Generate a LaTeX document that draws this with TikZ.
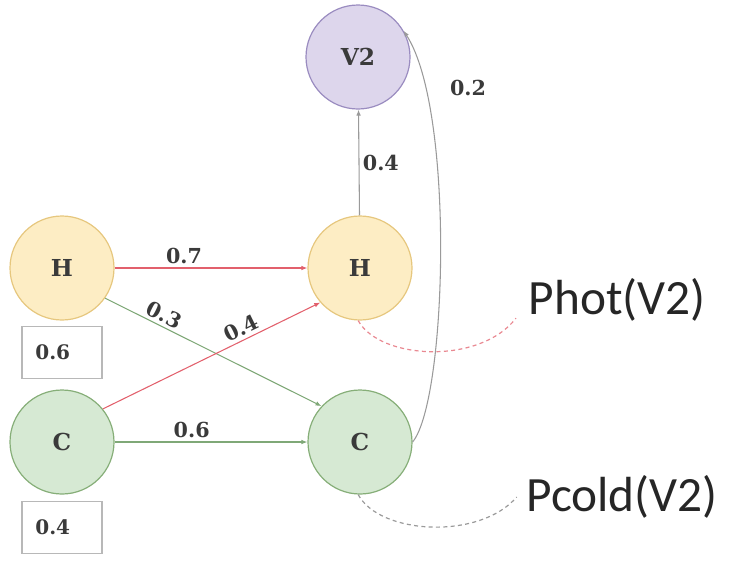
\documentclass[tikz,border=0pt]{standalone}
\usepackage{fontspec}
\setmainfont{DejaVu Serif}
\newfontfamily\calib{Carlito}
\usetikzlibrary{arrows.meta,positioning}

\definecolor{hotfill}{HTML}{FDEDC4}
\definecolor{hotline}{HTML}{E6C77E}
\definecolor{coldfill}{HTML}{D6E9D3}
\definecolor{coldline}{HTML}{86AE78}
\definecolor{vfill}{HTML}{DDD6EC}
\definecolor{vline}{HTML}{9A8CC0}
\definecolor{redline}{HTML}{E2606C}
\definecolor{greenline}{HTML}{7FA877}
\definecolor{grayline}{HTML}{9A9A9A}
\definecolor{labeltext}{HTML}{3A3A3A}

\begin{document}
\begin{tikzpicture}[
        x=0.75pt, y=-0.75pt,
        state/.style={circle, draw, line width=0.9pt, minimum size=78pt,
            inner sep=0pt, font=\bfseries\fontsize{17.5}{19}\selectfont, text=labeltext},
        hot/.style={state, draw=hotline, fill=hotfill},
        cold/.style={state, draw=coldline, fill=coldfill},
        vstate/.style={state, draw=vline, fill=vfill},
        probbox/.style={draw=grayline!70, line width=0.8pt, text width=40pt,
            align=left, inner xsep=10pt, minimum height=39pt,
            font=\bfseries\fontsize{15}{17}\selectfont, text=labeltext},
        wlabel/.style={font=\bfseries\fontsize{15.5}{17}\selectfont, text=labeltext, inner sep=2.5pt},
        tip/.style={-{Latex[length=4.5pt,width=3.5pt]}, line width=0.8pt},
        note/.style={font=\calib\fontsize{37}{40}\selectfont, text=black!85},
    ]
        \useasboundingbox (0,0) rectangle (737,561);

        % states at time 1 and 2
        \node[hot]    (hot1)  at (62,268)  {H};
        \node[cold]   (cold1) at (62,442)  {C};
        \node[hot]    (hot2)  at (360,268) {H};
        \node[cold]   (cold2) at (360,442) {C};
        \node[vstate] (vtwo)  at (358,57)  {V2};

        % start probabilities
        \node[probbox, below=4pt of hot1]  (phot1)  {0.6};
        \node[probbox, below=4.5pt of cold1] (pcold1) {0.4};

        % side notes
        \node[note, anchor=west] (phot)  at (524,300) {Phot(V2)};
        \node[note, anchor=west] (pcold) at (522,497) {Pcold(V2)};

        % transitions
        \draw[tip, redline] (hot1) -- node[wlabel, above, pos=0.36] {0.7} (hot2);
        \draw[tip, greenline] (hot1.-35) -- node[wlabel, sloped, above, pos=0.25] {0.3} (cold2.137);
        \draw[tip, redline] (cold1.39) -- node[wlabel, sloped, above, pos=0.66] {0.4} (hot2.221);
        \draw[tip, greenline] (cold1) -- node[wlabel, above, pos=0.4] {0.6} (cold2);

        % emissions
        \draw[tip, grayline] (hot2) -- node[wlabel, right, pos=0.5] {0.4} (vtwo);
        \draw[tip, grayline] (cold2.east) .. controls (447,400) and (455,110) .. (vtwo.30);
        \node[wlabel] (ptwo) at (468,88) {0.2};

        % dashed hints
        \draw[redline!75, dashed, dash pattern=on 3pt off 2.5pt, line width=0.9pt]
            (hot2.-92) .. controls (380,360) and (480,365) .. ([xshift=-6pt, yshift=6pt]phot.south west);
        \draw[grayline, dashed, dash pattern=on 3pt off 2.5pt, line width=0.9pt]
            (cold2.-92) .. controls (380,535) and (480,540) .. ([xshift=-4pt]pcold.west);
    \end{tikzpicture}
\end{document}
